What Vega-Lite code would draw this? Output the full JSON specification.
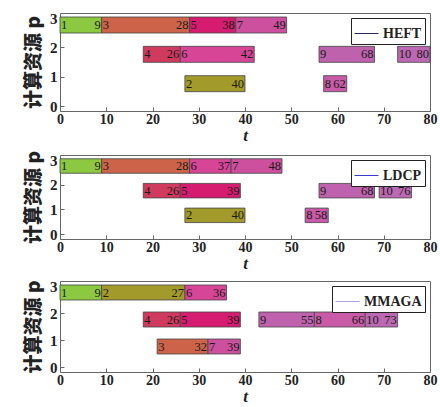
{
  "$schema": "https://vega.github.io/schema/vega-lite/v6.json",
  "padding": {"top": 10, "left": 24, "right": 0, "bottom": 0},
  "background": "white",
  "spacing": 6,
  "datasets": {
    "heft": [
      {"p": 3, "task": 1, "start": 0, "end": 9},
      {"p": 3, "task": 3, "start": 9, "end": 28},
      {"p": 3, "task": 5, "start": 28, "end": 38},
      {"p": 3, "task": 7, "start": 38, "end": 49},
      {"p": 2, "task": 4, "start": 18, "end": 26},
      {"p": 2, "task": 6, "start": 26, "end": 42},
      {"p": 2, "task": 9, "start": 56, "end": 68},
      {"p": 2, "task": 10, "start": 73, "end": 80},
      {"p": 1, "task": 2, "start": 27, "end": 40},
      {"p": 1, "task": 8, "start": 57, "end": 62}
    ],
    "ldcp": [
      {"p": 3, "task": 1, "start": 0, "end": 9},
      {"p": 3, "task": 3, "start": 9, "end": 28},
      {"p": 3, "task": 6, "start": 28, "end": 37},
      {"p": 3, "task": 7, "start": 37, "end": 48},
      {"p": 2, "task": 4, "start": 18, "end": 26},
      {"p": 2, "task": 5, "start": 26, "end": 39},
      {"p": 2, "task": 9, "start": 56, "end": 68},
      {"p": 2, "task": 10, "start": 69, "end": 76},
      {"p": 1, "task": 2, "start": 27, "end": 40},
      {"p": 1, "task": 8, "start": 53, "end": 58}
    ],
    "mmaga": [
      {"p": 3, "task": 1, "start": 0, "end": 9},
      {"p": 3, "task": 2, "start": 9, "end": 27},
      {"p": 3, "task": 6, "start": 27, "end": 36},
      {"p": 2, "task": 4, "start": 18, "end": 26},
      {"p": 2, "task": 5, "start": 26, "end": 39},
      {"p": 2, "task": 9, "start": 43, "end": 55},
      {"p": 2, "task": 8, "start": 55, "end": 66},
      {"p": 2, "task": 10, "start": 66, "end": 73},
      {"p": 1, "task": 3, "start": 21, "end": 32},
      {"p": 1, "task": 7, "start": 32, "end": 39}
    ]
  },
  "config": {
    "view": {"stroke": "#666", "strokeWidth": 1},
    "axis": {
      "grid": false,
      "domain": false,
      "tickColor": "#666",
      "labelOverlap": false,
      "labelFlush": false,
      "labelFont": "Liberation Serif",
      "labelFontWeight": "bold",
      "labelColor": "#222",
      "titleColor": "#222"
    },
    "axisX": {"tickSize": -4, "labelFontSize": 14, "labelPadding": 5, "titleFont": "Liberation Serif", "titleFontStyle": "italic", "titleFontWeight": "bold", "titleFontSize": 17, "titlePadding": 1},
    "axisY": {"tickSize": -4, "labelFontSize": 15, "labelPadding": 7, "titleFont": "Noto Sans CJK SC", "titleFontWeight": 900, "titleFontSize": 19, "titlePadding": 6},
    "legend": {
      "orient": "top-right",
      "offset": 5,
      "strokeColor": "#222",
      "fillColor": "white",
      "padding": 3,
      "title": null,
      "labelFont": "Liberation Serif",
      "labelFontWeight": "bold",
      "labelFontSize": 14,
      "labelColor": "#222",
      "labelOffset": 4,
      "symbolType": "stroke",
      "symbolSize": 576,
      "symbolStrokeWidth": 1
    }
  },
  "resolve": {"scale": {"stroke": "independent"}, "legend": {"stroke": "independent"}},
  "vconcat": [
    {
      "width": 370, "height": 98,
      "data": {"name": "heft"},
      "layer": [
        {
          "mark": {"type": "bar", "height": 16, "yOffset": 7, "stroke": "#444", "strokeWidth": 0.8},
          "encoding": {
            "x": {"field": "start", "type": "quantitative", "scale": {"domain": [0, 80], "nice": false}, "axis": {"values": [0,10,20,30,40,50,60,70,80], "title": "t"}},
            "x2": {"field": "end"},
            "y": {"field": "p", "type": "quantitative", "scale": {"domain": [0, 3], "nice": false}, "axis": {"tickCount": 3, "format": "d", "title": "计算资源 p"}},
            "color": {"field": "task", "type": "ordinal", "scale": {"domain": [1,2,3,4,5,6,7,8,9,10], "range": ["#8cc840","#a39a2c","#cd6449","#d03a5e","#d61c70","#d64596","#cc509e","#c85aa8","#be62ae","#bc68b2"]}, "legend": null}
          }
        },
        {
          "mark": {"type": "text", "align": "left", "baseline": "middle", "dx": 1, "yOffset": 7, "font": "Liberation Serif", "fontSize": 12.5, "color": "#1a1a1a"},
          "encoding": {"x": {"field": "start", "type": "quantitative"}, "y": {"field": "p", "type": "quantitative"}, "text": {"field": "task"}}
        },
        {
          "mark": {"type": "text", "align": "right", "baseline": "middle", "dx": -1, "yOffset": 7, "font": "Liberation Serif", "fontSize": 12.5, "color": "#1a1a1a"},
          "encoding": {"x": {"field": "end", "type": "quantitative"}, "y": {"field": "p", "type": "quantitative"}, "text": {"field": "end"}}
        },
        {
          "data": {"values": [{"alg": "HEFT", "x0": 0, "y0": 0}]},
          "mark": {"type": "line"},
          "encoding": {"x": {"field": "x0", "type": "quantitative"}, "y": {"field": "y0", "type": "quantitative"}, "stroke": {"field": "alg", "type": "nominal", "scale": {"range": ["#2a2a5a"]}}}
        }
      ]
    },
    {
      "width": 370, "height": 84,
      "data": {"name": "ldcp"},
      "layer": [
        {
          "mark": {"type": "bar", "height": 14.5, "yOffset": 6, "stroke": "#444", "strokeWidth": 0.8},
          "encoding": {
            "x": {"field": "start", "type": "quantitative", "scale": {"domain": [0, 80], "nice": false}, "axis": {"values": [0,10,20,30,40,50,60,70,80], "title": "t"}},
            "x2": {"field": "end"},
            "y": {"field": "p", "type": "quantitative", "scale": {"domain": [0, 3], "nice": false}, "axis": {"tickCount": 3, "format": "d", "title": "计算资源 p"}},
            "color": {"field": "task", "type": "ordinal", "scale": {"domain": [1,2,3,4,5,6,7,8,9,10], "range": ["#8cc840","#a39a2c","#cd6449","#d03a5e","#d61c70","#d64596","#cc509e","#c85aa8","#be62ae","#bc68b2"]}, "legend": null}
          }
        },
        {
          "mark": {"type": "text", "align": "left", "baseline": "middle", "dx": 1, "yOffset": 6, "font": "Liberation Serif", "fontSize": 12.5, "color": "#1a1a1a"},
          "encoding": {"x": {"field": "start", "type": "quantitative"}, "y": {"field": "p", "type": "quantitative"}, "text": {"field": "task"}}
        },
        {
          "mark": {"type": "text", "align": "right", "baseline": "middle", "dx": -1, "yOffset": 6, "font": "Liberation Serif", "fontSize": 12.5, "color": "#1a1a1a"},
          "encoding": {"x": {"field": "end", "type": "quantitative"}, "y": {"field": "p", "type": "quantitative"}, "text": {"field": "end"}}
        },
        {
          "data": {"values": [{"alg": "LDCP", "x0": 0, "y0": 0}]},
          "mark": {"type": "line"},
          "encoding": {"x": {"field": "x0", "type": "quantitative"}, "y": {"field": "y0", "type": "quantitative"}, "stroke": {"field": "alg", "type": "nominal", "scale": {"range": ["#3c3ccc"]}}}
        }
      ]
    },
    {
      "width": 370, "height": 91,
      "data": {"name": "mmaga"},
      "layer": [
        {
          "mark": {"type": "bar", "height": 15, "yOffset": 6.5, "stroke": "#444", "strokeWidth": 0.8},
          "encoding": {
            "x": {"field": "start", "type": "quantitative", "scale": {"domain": [0, 80], "nice": false}, "axis": {"values": [0,10,20,30,40,50,60,70,80], "title": "t"}},
            "x2": {"field": "end"},
            "y": {"field": "p", "type": "quantitative", "scale": {"domain": [0, 3], "nice": false}, "axis": {"tickCount": 3, "format": "d", "title": "计算资源 p"}},
            "color": {"field": "task", "type": "ordinal", "scale": {"domain": [1,2,3,4,5,6,7,8,9,10], "range": ["#8cc840","#a39a2c","#cd6449","#d03a5e","#d61c70","#d64596","#cc509e","#c85aa8","#be62ae","#bc68b2"]}, "legend": null}
          }
        },
        {
          "mark": {"type": "text", "align": "left", "baseline": "middle", "dx": 1, "yOffset": 6.5, "font": "Liberation Serif", "fontSize": 12.5, "color": "#1a1a1a"},
          "encoding": {"x": {"field": "start", "type": "quantitative"}, "y": {"field": "p", "type": "quantitative"}, "text": {"field": "task"}}
        },
        {
          "mark": {"type": "text", "align": "right", "baseline": "middle", "dx": -1, "yOffset": 6.5, "font": "Liberation Serif", "fontSize": 12.5, "color": "#1a1a1a"},
          "encoding": {"x": {"field": "end", "type": "quantitative"}, "y": {"field": "p", "type": "quantitative"}, "text": {"field": "end"}}
        },
        {
          "data": {"values": [{"alg": "MMAGA", "x0": 0, "y0": 0}]},
          "mark": {"type": "line"},
          "encoding": {"x": {"field": "x0", "type": "quantitative"}, "y": {"field": "y0", "type": "quantitative"}, "stroke": {"field": "alg", "type": "nominal", "scale": {"range": ["#aaa2dc"]}}}
        }
      ]
    }
  ]
}
